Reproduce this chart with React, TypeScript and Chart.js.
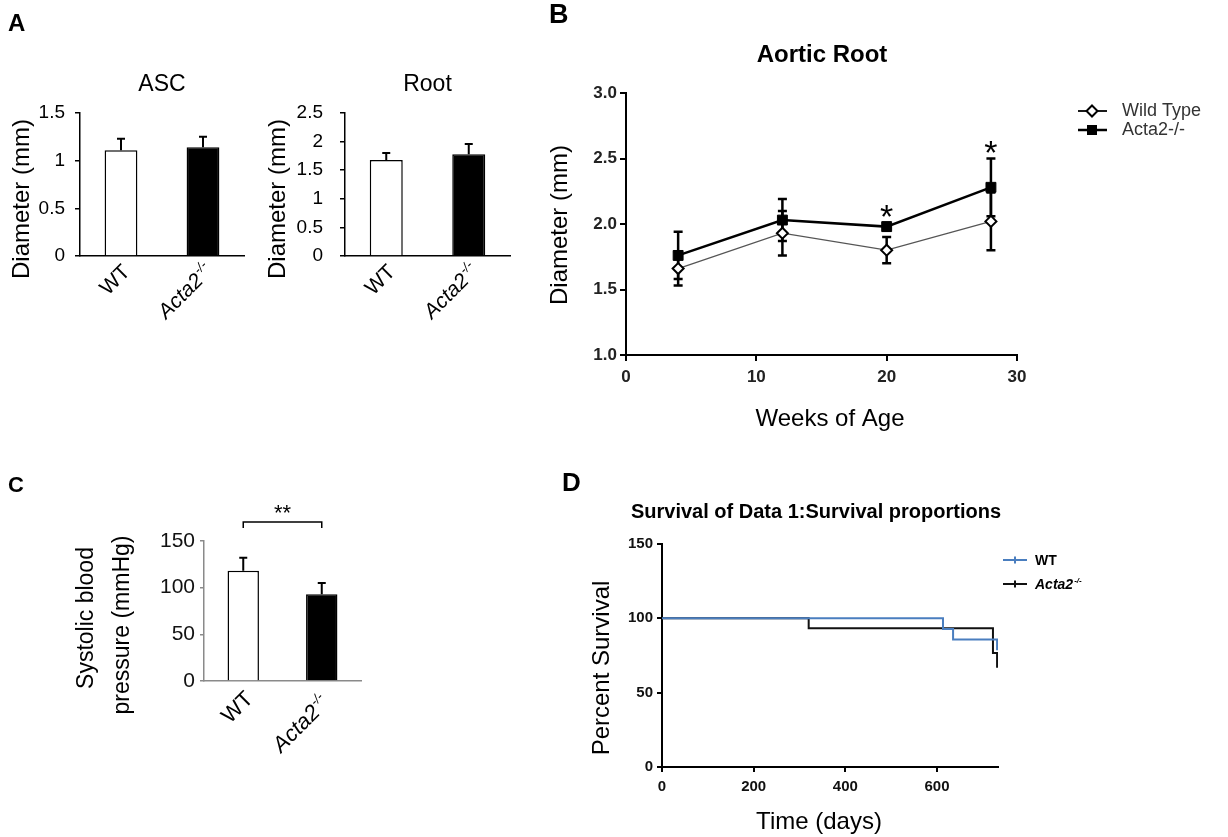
import React, { useEffect, useRef } from 'react';
import { Chart, registerables } from 'chart.js';

Chart.register(...registerables);

const FF = '"Liberation Sans", Arial, Helvetica, sans-serif';
const W = 1228;
const H = 837;

// ---------------- data ----------------
const groupLabels = ['WT', 'Acta2'];
const koSup = '-/-';
const barFills = ['#ffffff', '#000000'];

// Panel A
const ascMeans = [1.11, 1.14];
const ascErrors = [0.12, 0.11];
const rootMeans = [1.68, 1.78];
const rootErrors = [0.12, 0.18];

// Panel B
const weeks = [4, 12, 20, 28];
const wtDiameter = [1.66, 1.93, 1.8, 2.02];
const wtDiameterErr = [0.13, 0.17, 0.1, 0.22];
const actaDiameter = [1.76, 2.03, 1.98, 2.28];
const actaDiameterErr = [0.18, 0.16, 0.03, 0.22];
const sigWeeks = [20, 28];
const legendB = ['Wild Type', 'Acta2-/-'];

// Panel C
const bpMeans = [118, 93];
const bpErrors = [14, 12];
const bpStars = '**';

// Panel D
const wtSurvDays = [0, 613, 635, 731];
const wtSurvPct = [100, 92.9, 85.7, 78.6];
const actaSurvDays = [0, 320, 722, 731];
const actaSurvPct = [100, 93.3, 76.7, 66.7];

// ---------------- helpers ----------------
function frame(l: number, t: number, r: number, b: number, yw: number, xh: number) {
  return {
    padding: { left: l - yw, top: t, right: W - r, bottom: H - b - xh },
    yFit: (s: any) => { s.width = yw; },
    xFit: (s: any) => { s.height = xh; },
  };
}

function linearAxis(min: number, max: number, step: number, fit: any, o: any) {
  const ticks: any = {
    stepSize: step,
    includeBounds: false,
    autoSkip: false,
    maxRotation: 0,
    font: { family: FF, size: o.size, weight: o.weight || 'normal' },
    color: o.color || '#000',
    padding: o.pad,
  };
  if (o.cb) ticks.callback = o.cb;
  return {
    type: 'linear',
    min,
    max,
    afterFit: fit,
    ticks,
    grid: { display: true, drawOnChartArea: false, drawTicks: true, tickLength: o.tl, color: o.line, lineWidth: o.lw },
    border: { display: true, color: o.line, width: o.lw },
  };
}

function categoryAxis(fit: any, line: string, lw: number) {
  return {
    type: 'category',
    afterFit: fit,
    ticks: { display: false },
    grid: { display: false },
    border: { display: true, color: line, width: lw },
  };
}

function txt(ctx: CanvasRenderingContext2D, s: string, x: number, y: number, font: string, o: any = {}) {
  ctx.save();
  ctx.translate(x, y);
  if (o.rot) ctx.rotate(o.rot);
  ctx.font = font;
  ctx.fillStyle = o.color || '#000';
  ctx.textAlign = o.align || 'left';
  ctx.textBaseline = o.baseline || 'alphabetic';
  ctx.fillText(s, 0, 0);
  ctx.restore();
}

function supLabel(ctx: CanvasRenderingContext2D, main: string, sup: string, x: number, y: number, size: number, style: string, rot: number, align: string) {
  ctx.save();
  ctx.translate(x, y);
  if (rot) ctx.rotate(rot);
  const f1 = `${style} ${size}px ${FF}`;
  const f2 = `${style} ${Math.round(size * 0.6)}px ${FF}`;
  ctx.font = f1;
  const w1 = ctx.measureText(main).width;
  ctx.font = f2;
  const w2 = ctx.measureText(sup).width;
  const x0 = align === 'right' ? -(w1 + w2) : align === 'center' ? -(w1 + w2) / 2 : 0;
  ctx.fillStyle = '#000';
  ctx.textAlign = 'left';
  ctx.textBaseline = 'alphabetic';
  ctx.font = f1;
  ctx.fillText(main, x0, 0);
  ctx.font = f2;
  ctx.fillText(sup, x0 + w1 + 1, -size * 0.42);
  ctx.restore();
}

function errorBars(chart: any, dsIndex: number, errs: number[], both: boolean, cap: number, lw: number, color: string) {
  const meta = chart.getDatasetMeta(dsIndex);
  const ys = chart.scales.y;
  const data = chart.data.datasets[dsIndex].data;
  const ctx = chart.ctx as CanvasRenderingContext2D;
  ctx.save();
  ctx.strokeStyle = color;
  ctx.lineWidth = lw;
  meta.data.forEach((el: any, i: number) => {
    const d = data[i];
    const v = typeof d === 'number' ? d : d.y;
    const yTop = ys.getPixelForValue(v + errs[i]);
    const yBot = both ? ys.getPixelForValue(v - errs[i]) : el.y;
    ctx.beginPath();
    ctx.moveTo(el.x, yBot);
    ctx.lineTo(el.x, yTop);
    ctx.moveTo(el.x - cap / 2, yTop);
    ctx.lineTo(el.x + cap / 2, yTop);
    if (both) {
      ctx.moveTo(el.x - cap / 2, yBot);
      ctx.lineTo(el.x + cap / 2, yBot);
    }
    ctx.stroke();
  });
  ctx.restore();
}

function barXLabels(chart: any, size: number, offs: number[][]) {
  const meta = chart.getDatasetMeta(0);
  const bottom = chart.chartArea.bottom;
  const ctx = chart.ctx;
  meta.data.forEach((el: any, i: number) => {
    const [dx, dy] = offs[i];
    if (i === 0) {
      txt(ctx, groupLabels[0], el.x + dx, bottom + dy, `${size}px ${FF}`, { align: 'right', rot: -Math.PI / 4 });
    } else {
      supLabel(ctx, groupLabels[i], koSup, el.x + dx, bottom + dy, size, 'italic', -Math.PI / 4, 'right');
    }
  });
}

const plainNum = (v: any) => `${Number(Number(v).toFixed(2))}`;

const baseOptions = (padding: any) => ({
  responsive: false,
  animation: false as const,
  devicePixelRatio: 1,
  events: [] as any[],
  layout: { padding },
  plugins: { legend: { display: false }, tooltip: { enabled: false }, title: { display: false } },
});

// ---------------- Panel A ----------------
function barPanel(means: number[], errs: number[], f: any, yMax: number, yPad: number, title: string, yLabelX: number, letter: boolean) {
  return {
    type: 'bar',
    data: {
      labels: groupLabels,
      datasets: [{
        data: means,
        backgroundColor: barFills,
        borderColor: '#000',
        borderWidth: 1.5,
        barPercentage: 0.4,
        categoryPercentage: 1,
      }],
    },
    options: {
      ...baseOptions(f.padding),
      scales: {
        x: categoryAxis(f.xFit, '#000', 1.5),
        y: linearAxis(0, yMax, 0.5, f.yFit, { size: 19, pad: yPad, tl: 5, line: '#000', lw: 1.5, cb: plainNum }),
      },
    },
    plugins: [{
      id: 'decoA',
      afterDatasetsDraw(chart: any) {
        errorBars(chart, 0, errs, false, 8, 2, '#000');
      },
      afterDraw(chart: any) {
        const ctx = chart.ctx;
        const ca = chart.chartArea;
        if (letter) txt(ctx, 'A', 8, 31, `bold 24px ${FF}`);
        txt(ctx, title, (ca.left + ca.right) / 2, 91, `23px ${FF}`, { align: 'center' });
        txt(ctx, 'Diameter (mm)', yLabelX, 199, `24px ${FF}`, { align: 'center', baseline: 'middle', rot: -Math.PI / 2 });
        barXLabels(chart, 21, [[10, 17], [10, 17]]);
      },
    }],
  };
}

// ---------------- Panel B ----------------
function panelB() {
  const f = frame(626, 93, 1017, 355, 50, 40);
  const tickO = { size: 17, weight: 'bold', color: '#222', tl: 6, line: '#000', lw: 2 };
  return {
    type: 'line',
    data: {
      datasets: [
        {
          label: legendB[1],
          data: weeks.map((w, i) => ({ x: w, y: actaDiameter[i] })),
          borderColor: '#000',
          borderWidth: 2.5,
          pointStyle: 'rect',
          pointRadius: 7,
          pointBackgroundColor: '#000',
          pointBorderColor: '#000',
          pointBorderWidth: 1,
          tension: 0,
        },
        {
          label: legendB[0],
          data: weeks.map((w, i) => ({ x: w, y: wtDiameter[i] })),
          borderColor: '#555',
          borderWidth: 1.3,
          pointStyle: 'rectRot',
          pointRadius: 5.5,
          pointBackgroundColor: '#fff',
          pointBorderColor: '#000',
          pointBorderWidth: 2,
          tension: 0,
        },
      ],
    },
    options: {
      ...baseOptions(f.padding),
      scales: {
        x: linearAxis(0, 30, 10, f.xFit, { ...tickO, pad: 6 }),
        y: linearAxis(1, 3, 0.5, f.yFit, { ...tickO, pad: 3, cb: (v: number) => Number(v).toFixed(1) }),
      },
    },
    plugins: [{
      id: 'decoB',
      beforeDatasetsDraw(chart: any) {
        errorBars(chart, 1, wtDiameterErr, true, 9, 2.5, '#000');
        errorBars(chart, 0, actaDiameterErr, true, 9, 2.5, '#000');
      },
      afterDraw(chart: any) {
        const ctx = chart.ctx as CanvasRenderingContext2D;
        txt(ctx, 'B', 549, 23, `bold 27px ${FF}`);
        txt(ctx, 'Aortic Root', 822, 62, `bold 24px ${FF}`, { align: 'center' });
        txt(ctx, 'Diameter (mm)', 560, 225, `24px ${FF}`, { align: 'center', baseline: 'middle', rot: -Math.PI / 2 });
        txt(ctx, 'Weeks of Age', 830, 426, `24px ${FF}`, { align: 'center' });
        // significance asterisks
        const meta = chart.getDatasetMeta(0);
        const ys = chart.scales.y;
        sigWeeks.forEach((w) => {
          const i = weeks.indexOf(w);
          const el = meta.data[i];
          const yTop = ys.getPixelForValue(actaDiameter[i] + actaDiameterErr[i]);
          txt(ctx, '*', el.x, yTop - 14 + 19.5, `34px ${FF}`, { align: 'center' });
        });
        // legend
        const rows = [111, 130];
        ctx.save();
        ctx.strokeStyle = '#000';
        rows.forEach((y, r) => {
          ctx.lineWidth = r === 0 ? 1.8 : 2.5;
          ctx.beginPath();
          ctx.moveTo(1078, y);
          ctx.lineTo(1107, y);
          ctx.stroke();
          const cx = 1092;
          if (r === 0) {
            ctx.beginPath();
            ctx.moveTo(cx, y - 5.5);
            ctx.lineTo(cx + 5.5, y);
            ctx.lineTo(cx, y + 5.5);
            ctx.lineTo(cx - 5.5, y);
            ctx.closePath();
            ctx.fillStyle = '#fff';
            ctx.fill();
            ctx.lineWidth = 2;
            ctx.stroke();
          } else {
            ctx.fillStyle = '#000';
            ctx.fillRect(cx - 5, y - 5, 10, 10);
          }
          txt(ctx, legendB[r], 1122, y, `18px ${FF}`, { baseline: 'middle', color: '#333' });
        });
        ctx.restore();
      },
    }],
  };
}

// ---------------- Panel C ----------------
function panelC() {
  const f = frame(204, 541, 361, 681, 60, 10);
  const gray = '#8a8a8a';
  return {
    type: 'bar',
    data: {
      labels: groupLabels,
      datasets: [{
        data: bpMeans,
        backgroundColor: barFills,
        borderColor: '#000',
        borderWidth: 1.5,
        barPercentage: 0.4,
        categoryPercentage: 1,
      }],
    },
    options: {
      ...baseOptions(f.padding),
      scales: {
        x: categoryAxis(f.xFit, gray, 1.5),
        y: linearAxis(0, 150, 50, f.yFit, { size: 21, pad: 5, tl: 4, line: gray, lw: 1.5, color: '#111' }),
      },
    },
    plugins: [{
      id: 'decoC',
      afterDatasetsDraw(chart: any) {
        errorBars(chart, 0, bpErrors, false, 8, 2, '#000');
      },
      afterDraw(chart: any) {
        const ctx = chart.ctx as CanvasRenderingContext2D;
        txt(ctx, 'C', 8, 492, `bold 22px ${FF}`);
        txt(ctx, 'Systolic blood', 87, 618, `23px ${FF}`, { align: 'center', baseline: 'middle', rot: -Math.PI / 2 });
        txt(ctx, 'pressure (mmHg)', 123, 625, `23px ${FF}`, { align: 'center', baseline: 'middle', rot: -Math.PI / 2 });
        const meta = chart.getDatasetMeta(0);
        barXLabels(chart, 22, [[11, 19], [8, 24]]);
        // significance bracket
        const x1 = meta.data[0].x;
        const x2 = meta.data[1].x;
        const yb = 522;
        ctx.save();
        ctx.strokeStyle = '#000';
        ctx.lineWidth = 1.5;
        ctx.beginPath();
        ctx.moveTo(x1, yb + 6);
        ctx.lineTo(x1, yb);
        ctx.lineTo(x2, yb);
        ctx.lineTo(x2, yb + 6);
        ctx.stroke();
        ctx.restore();
        txt(ctx, bpStars, (x1 + x2) / 2, 520, `22px ${FF}`, { align: 'center' });
      },
    }],
  };
}

// ---------------- Panel D ----------------
function panelD() {
  const f = frame(662, 544, 998, 767, 50, 35);
  const tickO = { size: 15, weight: 'bold', color: '#111', tl: 5, line: '#000', lw: 2 };
  const blue = '#4a7ebf';
  return {
    type: 'line',
    data: {
      datasets: [
        {
          label: 'WT',
          data: wtSurvDays.map((d, i) => ({ x: d, y: wtSurvPct[i] })),
          borderColor: blue,
          borderWidth: 2,
          stepped: true,
          pointRadius: 0,
        },
        {
          label: 'Acta2',
          data: actaSurvDays.map((d, i) => ({ x: d, y: actaSurvPct[i] })),
          borderColor: '#111',
          borderWidth: 2,
          stepped: true,
          pointRadius: 0,
        },
      ],
    },
    options: {
      ...baseOptions(f.padding),
      scales: {
        x: linearAxis(0, 733, 200, f.xFit, { ...tickO, pad: 6 }),
        y: linearAxis(0, 150, 50, f.yFit, { ...tickO, pad: 4 }),
      },
    },
    plugins: [{
      id: 'decoD',
      afterDraw(chart: any) {
        const ctx = chart.ctx as CanvasRenderingContext2D;
        txt(ctx, 'D', 562, 491, `bold 26px ${FF}`);
        txt(ctx, 'Survival of Data 1:Survival proportions', 816, 518, `bold 20px ${FF}`, { align: 'center' });
        txt(ctx, 'Percent Survival', 602, 668, `24px ${FF}`, { align: 'center', baseline: 'middle', rot: -Math.PI / 2 });
        txt(ctx, 'Time (days)', 819, 829, `24px ${FF}`, { align: 'center' });
        // legend
        const rows = [560, 584];
        const cols = [blue, '#111'];
        ctx.save();
        rows.forEach((y, r) => {
          ctx.strokeStyle = cols[r];
          ctx.lineWidth = 2;
          ctx.beginPath();
          ctx.moveTo(1003, y);
          ctx.lineTo(1027, y);
          ctx.moveTo(1015, y - 3.5);
          ctx.lineTo(1015, y + 3.5);
          ctx.stroke();
        });
        ctx.restore();
        txt(ctx, 'WT', 1035, rows[0] + 5, `bold 14px ${FF}`);
        supLabel(ctx, groupLabels[1], koSup, 1035, rows[1] + 5, 14, 'italic bold', 0, 'left');
      },
    }],
  };
}

export default function App() {
  const r1 = useRef<HTMLCanvasElement>(null);
  const r2 = useRef<HTMLCanvasElement>(null);
  const r3 = useRef<HTMLCanvasElement>(null);
  const r4 = useRef<HTMLCanvasElement>(null);
  const r5 = useRef<HTMLCanvasElement>(null);

  useEffect(() => {
    const ascF = frame(80, 113, 244, 256, 60, 10);
    const rootF = frame(345, 113, 510, 256, 60, 10);
    const charts = [
      new Chart(r1.current as any, barPanel(ascMeans, ascErrors, ascF, 1.5, 10, 'ASC', 22, true) as any),
      new Chart(r2.current as any, barPanel(rootMeans, rootErrors, rootF, 2.5, 17, 'Root', 278, false) as any),
      new Chart(r3.current as any, panelB() as any),
      new Chart(r4.current as any, panelC() as any),
      new Chart(r5.current as any, panelD() as any),
    ];
    return () => charts.forEach((c) => c.destroy());
  }, []);

  const cs: React.CSSProperties = { position: 'absolute', left: 0, top: 0, width: W, height: H };
  return (
    <div style={{ position: 'absolute', left: 0, top: 0, width: W, height: H, background: '#fff', overflow: 'hidden' }}>
      <canvas ref={r1} width={W} height={H} style={cs} />
      <canvas ref={r2} width={W} height={H} style={cs} />
      <canvas ref={r3} width={W} height={H} style={cs} />
      <canvas ref={r4} width={W} height={H} style={cs} />
      <canvas ref={r5} width={W} height={H} style={cs} />
    </div>
  );
}
